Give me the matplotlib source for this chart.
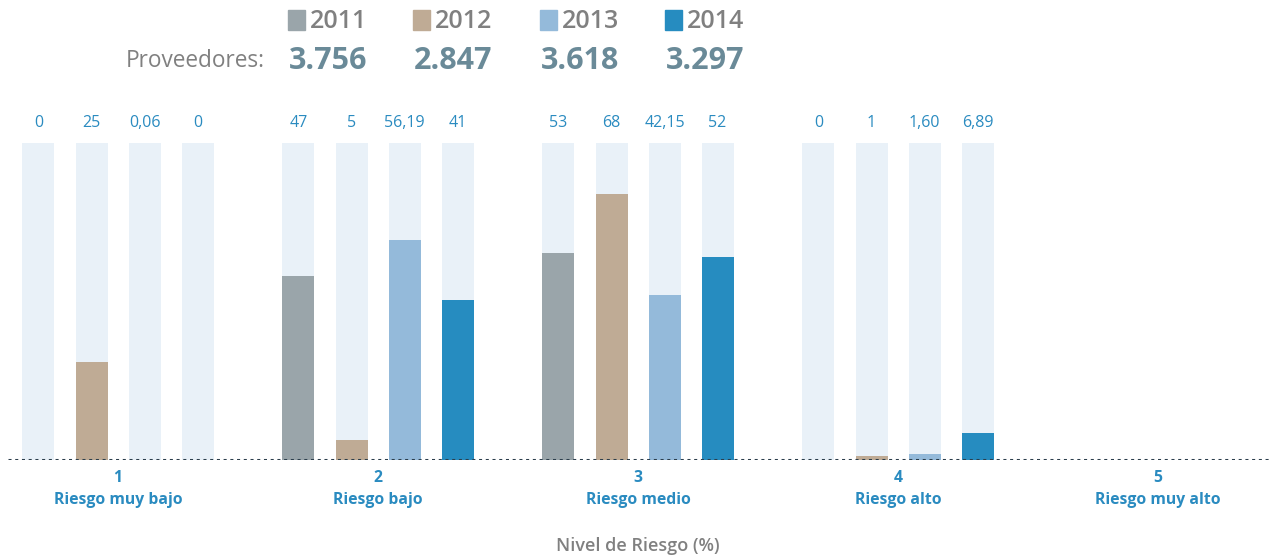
import numpy as np
import matplotlib.pyplot as plt

plt.rcParams['font.family'] = ['Open Sans', 'DejaVu Sans']

# datos
niveles = ["1", "2", "3", "4", "5"]
nombres = ["Riesgo muy bajo", "Riesgo bajo", "Riesgo medio", "Riesgo alto", "Riesgo muy alto"]
anios = ["2011", "2012", "2013", "2014"]
proveedores = ["3.756", "2.847", "3.618", "3.297"]
v2011 = [0, 47, 53, 0]
v2012 = [25, 5, 68, 1]
v2013 = [0.06, 56.19, 42.15, 1.60]
v2014 = [0, 41, 52, 6.89]
etiquetas = [
    ["0", "47", "53", "0"],
    ["25", "5", "68", "1"],
    ["0,06", "56,19", "42,15", "1,60"],
    ["0", "41", "52", "6,89"],
]
fondo = 81

colores = ["#9aa5aa", "#bfab95", "#94bada", "#268cc0"]
azul = "#2a8bc0"
gris = "#808080"

fig = plt.figure(figsize=(12.74, 5.57), dpi=100)
ax = fig.add_axes([0, 0.1741, 1, 0.569])

series = [v2011, v2012, v2013, v2014]
offsets = [-0.306, -0.102, 0.102, 0.306]
ancho = 0.123
x = np.arange(len(v2011))

for vals, off, col, labs in zip(series, offsets, colores, etiquetas):
    ax.bar(x + off, [fondo] * len(vals), width=ancho, color="#e9f1f8", zorder=1)
    ax.bar(x + off, vals, width=ancho, color=col, zorder=2)
    for xi, lab in zip(x + off, labs):
        ax.text(xi, fondo + 5.1, lab, ha="center", va="center",
                color=azul, fontsize=11.5)

ax.set_xlim(-0.454, 4.446)
ax.set_ylim(0, fondo)
ax.axhline(0, xmin=0.006, xmax=0.997, color="#2c3e4c", linestyle=(0, (1, 1.2)),
           linewidth=2.2, zorder=3)
ax.axis("off")

for i, (n, nom) in enumerate(zip(niveles, nombres)):
    ax.text(i, -4.7, n, ha="center", va="center", color=azul,
            fontsize=11.3, fontweight="bold")
    ax.text(i, -10.2, nom, ha="center", va="center", color=azul,
            fontsize=11.3, fontweight="bold")

fig.text(638 / 1274, 1 - 546 / 557, "Nivel de Riesgo (%)", ha="center",
         va="center", color=gris, fontsize=13, fontweight="semibold")

# leyenda
cuadros_x = [288, 413, 540, 665]
for cx, col, anio, prov in zip(cuadros_x, colores, anios, proveedores):
    fig.patches.append(plt.Rectangle((cx / 1274, 1 - 30 / 557), 17 / 1274, 20 / 557,
                                     transform=fig.transFigure, color=col))
    fig.text((cx + 22) / 1274, 1 - 22 / 557, anio, ha="left", va="center",
             color=gris, fontsize=18, fontweight="semibold")
    fig.text((cx + 1) / 1274, 1 - 61 / 557, prov, ha="left", va="center",
             color="#6a8a98", fontsize=22, fontweight="bold")

fig.text(265 / 1274, 1 - 61 / 557, "Proveedores:", ha="right", va="center",
         color=gris, fontsize=16.3)

fig.savefig("out.png", dpi=100)
